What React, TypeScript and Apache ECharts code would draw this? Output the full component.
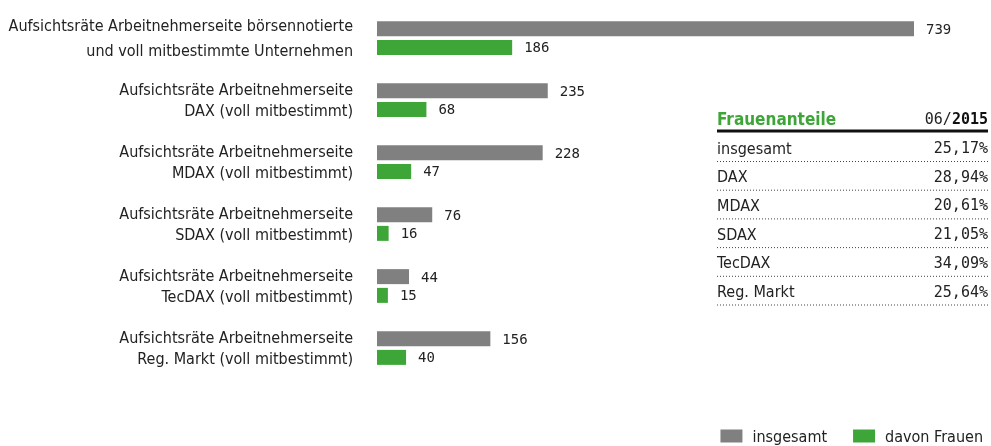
import React, { useEffect, useRef } from "react";
import * as echarts from "echarts";

const categories = [
  "Aufsichtsräte Arbeitnehmerseite börsennotierte\nund voll mitbestimmte Unternehmen",
  "Aufsichtsräte Arbeitnehmerseite\nDAX (voll mitbestimmt)",
  "Aufsichtsräte Arbeitnehmerseite\nMDAX (voll mitbestimmt)",
  "Aufsichtsräte Arbeitnehmerseite\nSDAX (voll mitbestimmt)",
  "Aufsichtsräte Arbeitnehmerseite\nTecDAX (voll mitbestimmt)",
  "Aufsichtsräte Arbeitnehmerseite\nReg. Markt (voll mitbestimmt)",
];
const insgesamt = [739, 235, 228, 76, 44, 156];
const davonFrauen = [186, 68, 47, 16, 15, 40];

const tableTitle = "Frauenanteile";
const tableDatePrefix = "06/";
const tableYear = "2015";
const tableLabels = ["insgesamt", "DAX", "MDAX", "SDAX", "TecDAX", "Reg. Markt"];
const tableValues = ["25,17%", "28,94%", "20,61%", "21,05%", "34,09%", "25,64%"];

const GRAY = "#808080";
const GREEN = "#3ea638";
const SANS = "'Liberation Sans Narrow', 'DejaVu Sans Condensed', 'Roboto Condensed', 'Noto Sans', sans-serif";
const MONO = "'DejaVu Sans Mono', 'Liberation Mono', monospace";

export default function App() {
  const ref = useRef<HTMLDivElement>(null);
  useEffect(() => {
    if (!ref.current) return;
    const chart = echarts.init(ref.current, undefined, { renderer: "svg" });

    const tLeft = 717;
    const tRight = 988;
    const rowY0 = 148;
    const rowStep = 28.7;
    const graphics: any[] = [
      {
        type: "text",
        style: { text: tableTitle, x: tLeft, y: 119, fill: GREEN, font: `bold 17px ${SANS}`, textVerticalAlign: "middle" },
      },
      {
        type: "text",
        style: {
          text: `{a|${tableDatePrefix}}{b|${tableYear}}`,
          x: tRight,
          y: 119,
          textAlign: "right",
          textVerticalAlign: "middle",
          rich: {
            a: { fontFamily: MONO, fontSize: 15, fill: "#222", color: "#222" },
            b: { fontFamily: MONO, fontSize: 15, fontWeight: "bold", fill: "#111", color: "#111" },
          },
        },
      },
      {
        type: "rect",
        shape: { x: tLeft, y: 129.5, width: tRight - tLeft, height: 3 },
        style: { fill: "#111" },
      },
    ];
    tableLabels.forEach((lab, i) => {
      const y = rowY0 + i * rowStep;
      graphics.push({
        type: "text",
        style: { text: lab, x: tLeft, y, fill: "#222", font: `16px ${SANS}`, textVerticalAlign: "middle" },
      });
      graphics.push({
        type: "text",
        style: { text: tableValues[i], x: tRight, y, fill: "#222", font: `15px ${MONO}`, textAlign: "right", textVerticalAlign: "middle" },
      });
      graphics.push({
        type: "line",
        shape: { x1: tLeft, y1: y + 13.5, x2: tRight, y2: y + 13.5 },
        style: { stroke: "#444", lineWidth: 1, lineDash: [1, 2] },
      });
    });

    chart.setOption({
      animation: false,
      grid: { left: 377, top: 7, width: 537, height: 372, containLabel: false },
      xAxis: { type: "value", min: 0, max: 739, show: false },
      yAxis: {
        type: "category",
        inverse: true,
        data: categories.map((c, i) =>
          i === 0 ? { value: c, textStyle: { lineHeight: 25 } } : c
        ),
        axisLine: { show: false },
        axisTick: { show: false },
        axisLabel: {
          margin: 24,
          fontFamily: SANS,
          fontSize: 16,
          color: "#222",
          lineHeight: 21,
          align: "right",
        },
      },
      legend: {
        right: 8,
        top: 428,
        padding: 0,
        itemWidth: 22,
        itemHeight: 13,
        itemGap: 26,
        icon: "rect",
        textStyle: { fontFamily: SANS, fontSize: 16, color: "#222", padding: [0, 0, 0, 5] },
        data: ["insgesamt", "davon Frauen"],
      },
      series: [
        {
          name: "insgesamt",
          type: "bar",
          data: insgesamt,
          barWidth: 15,
          barGap: "25%",
          itemStyle: { color: GRAY },
          label: { show: true, position: "right", distance: 12, fontFamily: MONO, fontSize: 14, color: "#222" },
        },
        {
          name: "davon Frauen",
          type: "bar",
          data: davonFrauen,
          barWidth: 15,
          itemStyle: { color: GREEN },
          label: { show: true, position: "right", distance: 12, fontFamily: MONO, fontSize: 14, color: "#222" },
        },
      ],
      graphic: graphics,
    });
    return () => chart.dispose();
  }, []);
  return <div ref={ref} style={{ position: "fixed", left: 0, top: 0, width: 991, height: 446 }} />;
}
